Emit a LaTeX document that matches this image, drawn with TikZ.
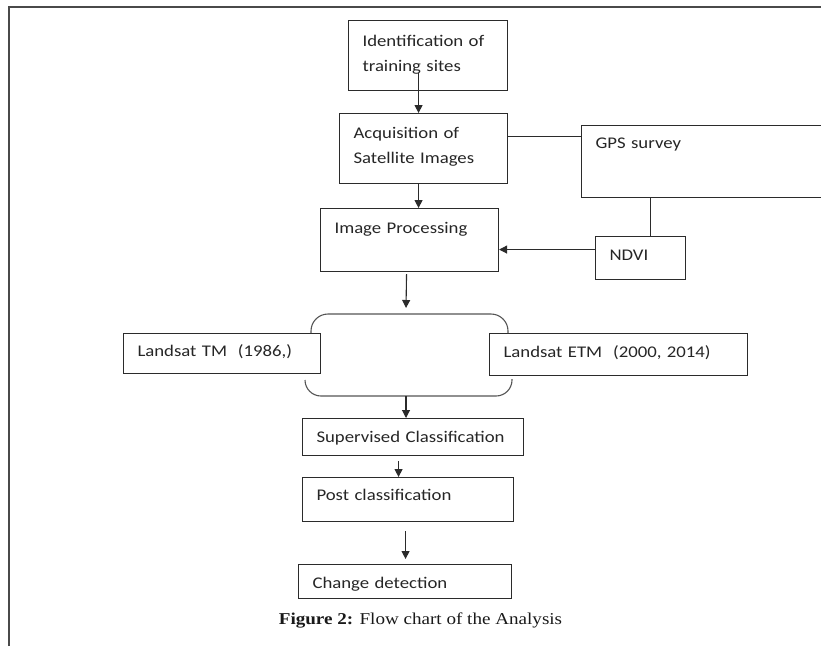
\documentclass[tikz,border=0pt]{standalone}
\usepackage{fontspec}
\usepackage{xcolor}
\usepackage{tikz}
\usetikzlibrary{arrows.meta}
\newfontfamily\boxfont[FakeStretch=1.15]{Carlito}
\newfontfamily\capfont[FakeStretch=1.15]{Liberation Serif}
\definecolor{lineGray}{HTML}{2B2B2B}
\definecolor{frameGray}{HTML}{4A4A4A}

\begin{document}
\begin{tikzpicture}[
    x=1pt, y=-1pt,
    box/.style={draw=lineGray, line width=1.1pt, fill=white, anchor=north west, inner xsep=14pt, inner ysep=0pt, align=left, text=black!85, font=\boxfont\fontsize{16.3}{24.5}\selectfont},
    arr/.style={-{Triangle[length=8pt, width=8pt]}, line width=1.1pt, draw=lineGray},
    link/.style={line width=1.1pt, draw=lineGray},
    bracketline/.style={line width=1.1pt, draw=lineGray!80}
]
\useasboundingbox (0,0) rectangle (821,646);
% Frame
\draw[frameGray, line width=1.6pt] (9,646) -- (9,7) -- (821,7);
% Nodes
\node[box, text width=131pt, text height=26pt, text depth=44pt] (ident) at (348,20) {Identification of\\training sites};
\node[box, text width=140pt, text height=25pt, text depth=45pt] (acq) at (339,113) {Acquisition of\\Satellite Images};
\node[box, text width=215pt, text height=23pt, text depth=49pt] (gps) at (581,125) {GPS survey};
\node[box, text width=150pt, text height=25pt, text depth=38pt] (improc) at (320,208) {Image Processing};
\node[box, text width=62pt, text height=24pt, text depth=19pt] (ndvi) at (595,236) {NDVI};
\node[box, text width=169pt, text height=23pt, text depth=17pt] (tm) at (123,333) {Landsat TM\ \ (1986,)};
\node[box, text width=230pt, text height=24pt, text depth=18pt] (etm) at (489,333) {Landsat ETM\ \ (2000, 2014)};
\node[box, text width=193pt, text height=24pt, text depth=13pt] (superv) at (302,418) {Supervised Classification};
\node[box, text width=183pt, text height=23pt, text depth=21pt] (post) at (302,477) {Post classification};
\node[box, text width=185pt, text height=24pt, text depth=10pt] (change) at (298,564) {Change detection};
\node[font=\capfont\fontsize{16.6}{20}\selectfont, anchor=base, text=black!90] (caption) at (420.5,624) {\textbf{Figure 2:} Flow chart of the Analysis};
% Bracket
\coordinate (btop) at (406,314);
\coordinate (bbot) at (406,396);
\draw[bracketline, rounded corners=17pt] (311,333) -- (311,314) -- (508,314) -- (508,333);
\draw[bracketline, rounded corners=16pt] (305,380) -- (305,396) -- (512,396) -- (512,379);
% Arrows
\draw[arr] ([xshift=-9.5pt,yshift=18pt]ident.south) -- ([xshift=-5pt]acq.north);
\draw[arr] ([xshift=-5pt]acq.south) -- ([xshift=9pt]improc.north);
\draw[link] ([yshift=12pt]acq.east) -- ([yshift=12pt]acq.east -| gps.west);
\draw[link] ([xshift=10pt]ndvi.north |- gps.south) -- ([xshift=10pt]ndvi.north);
\draw[arr] ([yshift=8.5pt]ndvi.west) -- ([yshift=8.5pt]ndvi.west -| improc.east);
\draw[arr] ([xshift=-3pt,yshift=-2pt]improc.south) -- ([yshift=6pt]btop);
\draw[arr] (bbot) -- (bbot |- superv.north);
\draw[arr] ([xshift=-14.5pt,yshift=-5pt]superv.south) -- ([xshift=-9.5pt]post.north);
\draw[arr] ([xshift=-2.5pt,yshift=-9pt]post.south) -- ([xshift=0.5pt,yshift=5pt]change.north);
\end{tikzpicture}
\end{document}
